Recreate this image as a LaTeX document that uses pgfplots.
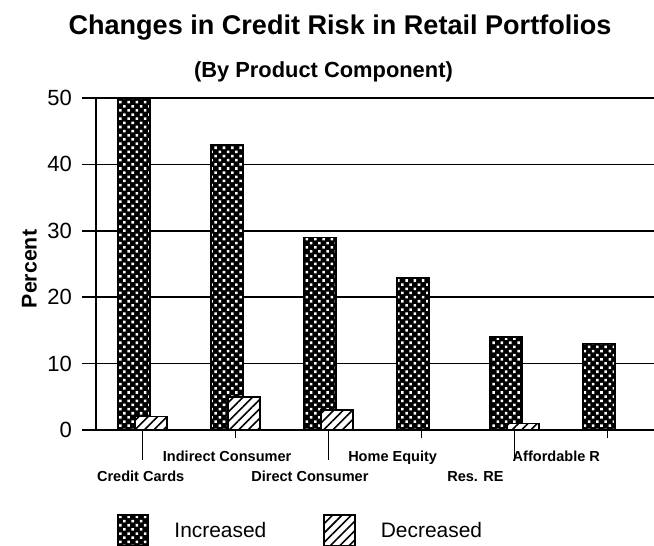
\documentclass[border=0pt]{standalone}
\usepackage{fontspec}
\setmainfont{Liberation Sans}
\usepackage{pgfplots}
\pgfplotsset{compat=1.18}
\usetikzlibrary{patterns.meta}

\begin{document}
\begin{tikzpicture}
\useasboundingbox (-72pt,-87pt) rectangle (418.5pt,322.5pt);
\begin{axis}[
    at={(0,0)}, anchor=south west,
    scale only axis,
    width=418.5pt, height=249pt,
    xmin=-0.5, xmax=5.5,
    ymin=0, ymax=50,
    axis lines*=left,
    axis line style={black, line width=1.3pt},
    xtick=\empty,
    ytick={0,10,...,50},
    tick align=outside,
    major tick length=10.5pt,
    tick style={black, line width=1.2pt},
    ymajorgrids,
    major grid style={black, line width=1.1pt},
    yticklabel style={font=\fontsize{16.5}{18}\selectfont, xshift=-4pt,
        /pgf/number format/assume math mode=true},
    ybar, bar width=24pt,
    clip=false,
    legend style={at={(0.0376,-0.3027)}, anchor=west,
        draw=none, fill=none, legend columns=2,
        inner sep=0pt, outer sep=0pt,
        nodes={inner sep=0pt, font=\fontsize{15.7}{18}\selectfont},
        /tikz/every odd column/.append style={column sep=18.75pt},
        /tikz/every even column/.append style={column sep=42.75pt}},
    legend cell align=left,
    legend image code/.code={\draw[#1] (0pt,-11.6pt) rectangle (23.25pt,11.6pt);},
]
% increased
\addplot[bar shift=-6.4pt, draw=black, line width=1.1pt,
    preaction={fill=black},
    pattern={Dots[angle=45, distance=4.4pt, radius=1.35pt]}, pattern color=white]
    coordinates {(0,50) (1,43) (2,29) (3,23) (4,14) (5,13)};
\addlegendentry{Increased}
% decreased
\addplot[bar shift=6.4pt, draw=black, line width=1.1pt,
    preaction={fill=white},
    pattern={Lines[angle=45, distance=5pt, line width=1.2pt]}, pattern color=black]
    coordinates {(0,2) (1,5) (2,3) (3,0) (4,1) (5,0)};
\addlegendentry{Decreased}

% category ticks, staggered
\draw[line width=1.2pt] (axis cs:0,0) -- ([yshift=-22.5pt]axis cs:0,0);
\draw[line width=1.2pt] (axis cs:2,0) -- ([yshift=-22.5pt]axis cs:2,0);
\draw[line width=1.2pt] (axis cs:4,0) -- ([yshift=-22.5pt]axis cs:4,0);
\draw[line width=1.2pt] (axis cs:1,0) -- ([yshift=-6pt]axis cs:1,0);
\draw[line width=1.2pt] (axis cs:3,0) -- ([yshift=-6pt]axis cs:3,0);
\draw[line width=1.2pt] (axis cs:5,0) -- ([yshift=-6pt]axis cs:5,0);
\tikzset{catlab/.style={anchor=base, font=\bfseries\fontsize{10.9}{12}\selectfont}}
\node[catlab] at ([yshift=-39pt]axis cs:-0.02,0) {Credit Cards};
\node[catlab] at ([yshift=-24pt]axis cs:0.91,0) {Indirect Consumer};
\node[catlab] at ([yshift=-39pt]axis cs:1.80,0) {Direct Consumer};
\node[catlab] at ([yshift=-24pt]axis cs:2.69,0) {Home Equity};
\node[catlab] at ([yshift=-39pt]axis cs:3.58,0) {Res. RE};
\node[catlab] at ([yshift=-24pt]axis cs:4.45,0) {Affordable R};
\end{axis}

\node[anchor=base, font=\bfseries\fontsize{20.3}{24}\selectfont] at (183pt,296.25pt)
    {Changes in Credit Risk in Retail Portfolios};
\node[anchor=base, font=\bfseries\fontsize{16.4}{19}\selectfont] at (170.6pt,264pt)
    {(By Product Component)};
\node[rotate=90, font=\bfseries\fontsize{16}{19}\selectfont] at (-50pt,120.75pt) {Percent};
\end{tikzpicture}
\end{document}
